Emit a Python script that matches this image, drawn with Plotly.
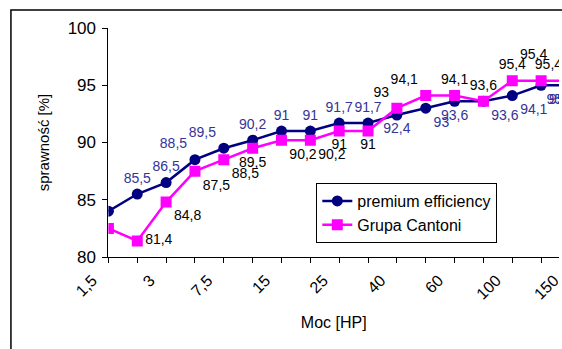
import plotly.graph_objects as go

# Data
categories = ["1,5", "2", "3", "5", "7,5", "10", "15", "20", "25", "30",
              "40", "50", "60", "75", "100", "125", "150"]
premium = [84, 85.5, 86.5, 88.5, 89.5, 90.2, 91, 91, 91.7, 91.7,
           92.4, 93, 93.6, 93.6, 94.1, 95, 95]
cantoni = [82.5, 81.4, 84.8, 87.5, 88.5, 89.5, 90.2, 90.2, 91, 91,
           93, 94.1, 94.1, 93.6, 95.4, 95.4, 95.4]
label_ticks = ["1,5", "3", "7,5", "15", "25", "40", "60", "100", "150"]

def fmt(v):
    return ("%g" % v).replace(".", ",")

premium_pos = ["middle left", "top center", "top center", "top left", "top left",
               "top center", "top center", "top center", "top center", "top center",
               "bottom center", "bottom right", "bottom center", "bottom right",
               "bottom right", "bottom right", "bottom left"]
cantoni_pos = ["middle left", "middle right", "bottom right", "bottom right", "bottom right",
               "bottom center", "bottom right", "bottom right", "bottom center", "bottom center",
               "top left", "top left", "top center", "top center", "top center",
               "top center", "top left"]
RAISED = 15  # label drawn higher to avoid overlapping its neighbours

FONT = "Liberation Sans, Arial, sans-serif"
N = len(categories)
x_idx = list(range(N))

W, H = 562, 349
plot_left = 109
mt, mb = 28, 92
x_max = 15.62
spacing = (W - plot_left) / x_max
label_shift_px = 16
r0 = -(plot_left - label_shift_px) / spacing
r1 = r0 + W / spacing
ph = H - mt - mb

def px_x(p):
    return p / W
def px_y(p):
    return (H - mb - p) / ph

cantoni_text = [fmt(v) for v in cantoni]
cantoni_text[RAISED] = ""

fig = go.Figure()
fig.add_trace(go.Scatter(
    x=x_idx, y=premium, name="premium efficiency",
    mode="lines+markers+text",
    line=dict(color="#000080", width=2.5),
    marker=dict(symbol="circle", size=11, color="#000080"),
    text=[fmt(v) for v in premium], textposition=premium_pos,
    textfont=dict(family=FONT, size=14, color="#333399"),
    cliponaxis=True,
))
fig.add_trace(go.Scatter(
    x=x_idx, y=cantoni, name="Grupa Cantoni",
    mode="lines+markers+text",
    line=dict(color="#FF00FF", width=2.5),
    marker=dict(symbol="square", size=11, color="#FF00FF"),
    text=cantoni_text, textposition=cantoni_pos,
    textfont=dict(family=FONT, size=14, color="#000000"),
    cliponaxis=True,
))
fig.add_annotation(x=RAISED, y=cantoni[RAISED], xref="x", yref="y",
                   text=fmt(cantoni[RAISED]), showarrow=False,
                   yanchor="bottom", xanchor="center", yshift=17, xshift=-8,
                   font=dict(family=FONT, size=14, color="#000000"))
# empty helper trace so the tick-label axis (x2) is drawn
fig.add_trace(go.Scatter(x=[], y=[], xaxis="x2", yaxis="y", showlegend=False,
                         hoverinfo="skip"))

# chart-area frame (left and top edges visible, rest cropped)
fig.add_shape(type="rect", xref="paper", yref="paper",
              x0=px_x(11), x1=px_x(700), y0=px_y(10), y1=px_y(500),
              line=dict(color="#000000", width=1.5), fillcolor="rgba(0,0,0,0)", layer="below")

fig.update_layout(
    width=W, height=H,
    margin=dict(l=0, r=0, t=mt, b=mb),
    paper_bgcolor="white", plot_bgcolor="rgba(0,0,0,0)",
    font=dict(family=FONT, size=15, color="#000000"),
    showlegend=True,
    legend=dict(x=px_x(318), y=px_y(183), xanchor="left", yanchor="top",
                bordercolor="#000000", borderwidth=1, bgcolor="white",
                font=dict(family=FONT, size=16, color="#000000"),
                tracegroupgap=0),
    xaxis=dict(domain=[plot_left / W, 1], range=[0, x_max],
               showgrid=False, zeroline=False,
               showline=True, linecolor="#000000", linewidth=1,
               ticks="outside", ticklen=5, tickcolor="#000000",
               tickmode="linear", tick0=0, dtick=1, showticklabels=False,
               title=dict(text="Moc [HP]", font=dict(family=FONT, size=16), standoff=54)),
    xaxis2=dict(domain=[0, 1], anchor="y", side="bottom",
                range=[r0, r1], showgrid=False, zeroline=False,
                showline=False, ticks="",
                tickmode="array", tickvals=list(range(0, N, 2)), ticktext=label_ticks,
                tickangle=-45, tickfont=dict(family=FONT, size=16),
                ticklabelstandoff=10, ticklabeloverflow="allow"),
    yaxis=dict(range=[80, 100], showgrid=False, zeroline=False,
               showline=True, linecolor="#000000", linewidth=1,
               ticks="outside", ticklen=5, tickcolor="#000000",
               tickmode="linear", tick0=80, dtick=5,
               tickfont=dict(family=FONT, size=17), ticklabelstandoff=3,
               title=dict(text="sprawność [%]", font=dict(family=FONT, size=15), standoff=14)),
)

fig.write_html("out.html")
